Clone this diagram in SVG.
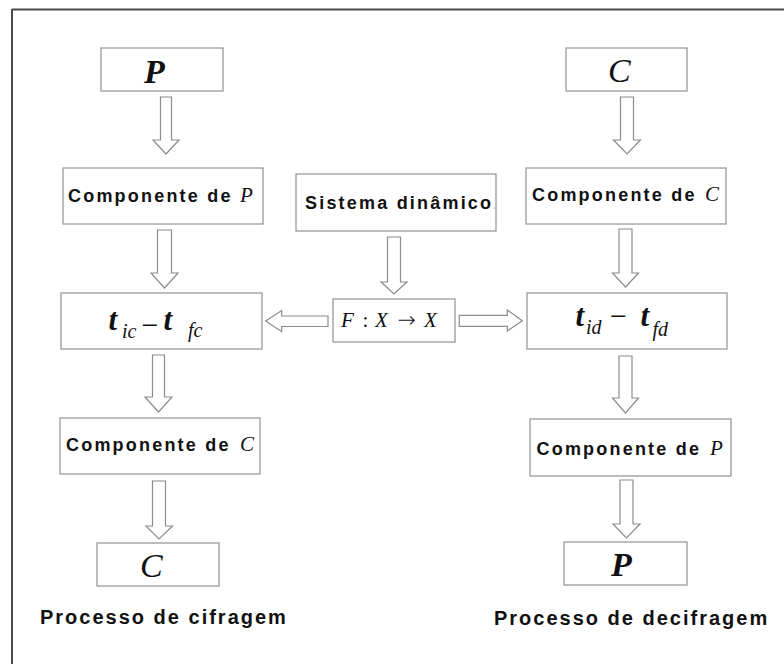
<svg xmlns="http://www.w3.org/2000/svg" width="784" height="664" viewBox="0 0 784 664">
<style>
.box{fill:#fff;stroke:#9a9a9a;stroke-width:1.3}
.arr{fill:#fff;stroke:#8c8c8c;stroke-width:1.2;stroke-linejoin:miter}
.lbl{font-family:"Liberation Sans",Arial,sans-serif;font-weight:bold;font-size:18px;letter-spacing:2.2px;fill:#111}
.cap{font-family:"Liberation Sans",Arial,sans-serif;font-weight:bold;font-size:20px;letter-spacing:2px;fill:#111}
.mi{font-family:"Liberation Serif","Times New Roman",serif;font-style:italic;fill:#111}
.mb{font-family:"Liberation Serif","Times New Roman",serif;font-style:italic;font-weight:bold;fill:#111}
.mu{font-family:"Liberation Serif","Times New Roman",serif;fill:#111}
.ar{font-family:"DejaVu Sans",sans-serif;font-weight:200;fill:#111}
</style>
<rect width="784" height="664" fill="#fff"/>
<g id="frame">
<line x1="12" y1="9.5" x2="784" y2="9.5" stroke="#4a4a4a" stroke-width="2"/>
<line x1="12" y1="9" x2="12" y2="664" stroke="#4a4a4a" stroke-width="2"/>
</g>
<g id="connectors">
<polygon class="arr" points="160.5,97 171.5,97 171.5,140 179,140 166,154 153,140 160.5,140"/>
<polygon class="arr" points="157.5,230 171.5,230 171.5,273 178,273 164.5,288 151,273 157.5,273"/>
<polygon class="arr" points="152.5,355 164.5,355 164.5,397 172,397 158.5,412 145,397 152.5,397"/>
<polygon class="arr" points="152.5,481 165.5,481 165.5,526 172.5,526 159,539 146,526 152.5,526"/>
<polygon class="arr" points="620.5,97 633.5,97 633.5,140 640.5,140 627,154 613.5,140 620.5,140"/>
<polygon class="arr" points="619,229 632,229 632,273 638.5,273 625.5,287 612.5,273 619,273"/>
<polygon class="arr" points="619,356 632,356 632,398 638.5,398 625.5,413 612.5,398 619,398"/>
<polygon class="arr" points="620,480 633,480 633,524 640,524 626.5,538 613,524 620,524"/>
<polygon class="arr" points="387.5,237 400.5,237 400.5,282 407,282 394,294 381,282 387.5,282"/>
<polygon class="arr" points="328,316 328,326.5 281.7,326.5 281.7,331.7 265.7,321 281.7,310.5 281.7,316"/>
<polygon class="arr" points="459.3,315.3 507.3,315.3 507.3,310 522.3,320.7 507.3,331 507.3,326.3 459.3,326.3"/>
</g>
<g id="node-P-top">
<rect class="box" x="101" y="48" width="122" height="43"/>
<text class="mb" x="144" y="82.5" font-size="34">P</text>
</g>
<g id="node-compP-left">
<rect class="box" x="63" y="168" width="200" height="56"/>
<text class="lbl" x="68" y="201.5">Componente de <tspan class="mi" x="240" font-size="21" letter-spacing="0" font-weight="normal">P</tspan></text>
</g>
<g id="node-sistema">
<rect class="box" x="296" y="174" width="200" height="57"/>
<text class="lbl" x="305" y="208.5" letter-spacing="2">Sistema dinâmico<tspan fill="#bbb" font-size="10">.</tspan></text>
</g>
<g id="node-C-top">
<rect class="box" x="566" y="48" width="121" height="43"/>
<text class="mi" x="608" y="81.7" font-size="34">C</text>
</g>
<g id="node-compC-right">
<rect class="box" x="526" y="168" width="200" height="56"/>
<text class="lbl" x="532" y="201">Componente de <tspan class="mi" x="705" font-size="21" letter-spacing="0" font-weight="normal">C</tspan></text>
</g>
<g id="node-tic">
<rect class="box" x="61" y="293" width="201" height="56"/>
<text class="mb" x="108.5" y="330" font-size="31">t</text>
<text class="mi" x="122" y="337.7" font-size="20">ic</text>
<text class="mu" x="141.5" y="335" font-size="30">−</text>
<text class="mb" x="163.5" y="330" font-size="31">t</text>
<text class="mi" x="188" y="337.3" font-size="20">fc</text>
</g>
<g id="node-F">
<rect class="box" x="333" y="299" width="122" height="43"/>
<text class="mi" x="341" y="327" font-size="21">F</text>
<text class="mu" x="362.5" y="327" font-size="21">:</text>
<text class="mi" x="375" y="327" font-size="21">X</text>
<text class="ar" x="397.5" y="327" font-size="22">→</text>
<text class="mi" x="424" y="327" font-size="21">X</text>
</g>
<g id="node-tid">
<rect class="box" x="527" y="293" width="200" height="56"/>
<text class="mb" x="575.5" y="326" font-size="31">t</text>
<text class="mi" x="586" y="334.3" font-size="20">id</text>
<text class="mu" x="610" y="326" font-size="30">−</text>
<text class="mb" x="640.5" y="326" font-size="31">t</text>
<text class="mi" x="652.5" y="336" font-size="20">fd</text>
</g>
<g id="node-compC-left">
<rect class="box" x="60" y="418" width="200" height="56"/>
<text class="lbl" x="66" y="450.7">Componente de <tspan class="mi" x="240" font-size="21" letter-spacing="0" font-weight="normal">C</tspan></text>
</g>
<g id="node-compP-right">
<rect class="box" x="530" y="419" width="201" height="57"/>
<text class="lbl" x="536.5" y="455">Componente de <tspan class="mi" x="710" font-size="21" letter-spacing="0" font-weight="normal">P</tspan></text>
</g>
<g id="node-C-bottom">
<rect class="box" x="97" y="543" width="122" height="43"/>
<text class="mi" x="140" y="577" font-size="34">C</text>
</g>
<g id="node-P-bottom">
<rect class="box" x="564" y="542" width="123" height="43"/>
<text class="mb" x="611" y="575.7" font-size="34">P</text>
</g>
<g id="captions">
<text class="cap" x="40" y="624.3">Processo de cifragem</text>
<text class="cap" x="494" y="625">Processo de decifragem</text>
</g>
</svg>
